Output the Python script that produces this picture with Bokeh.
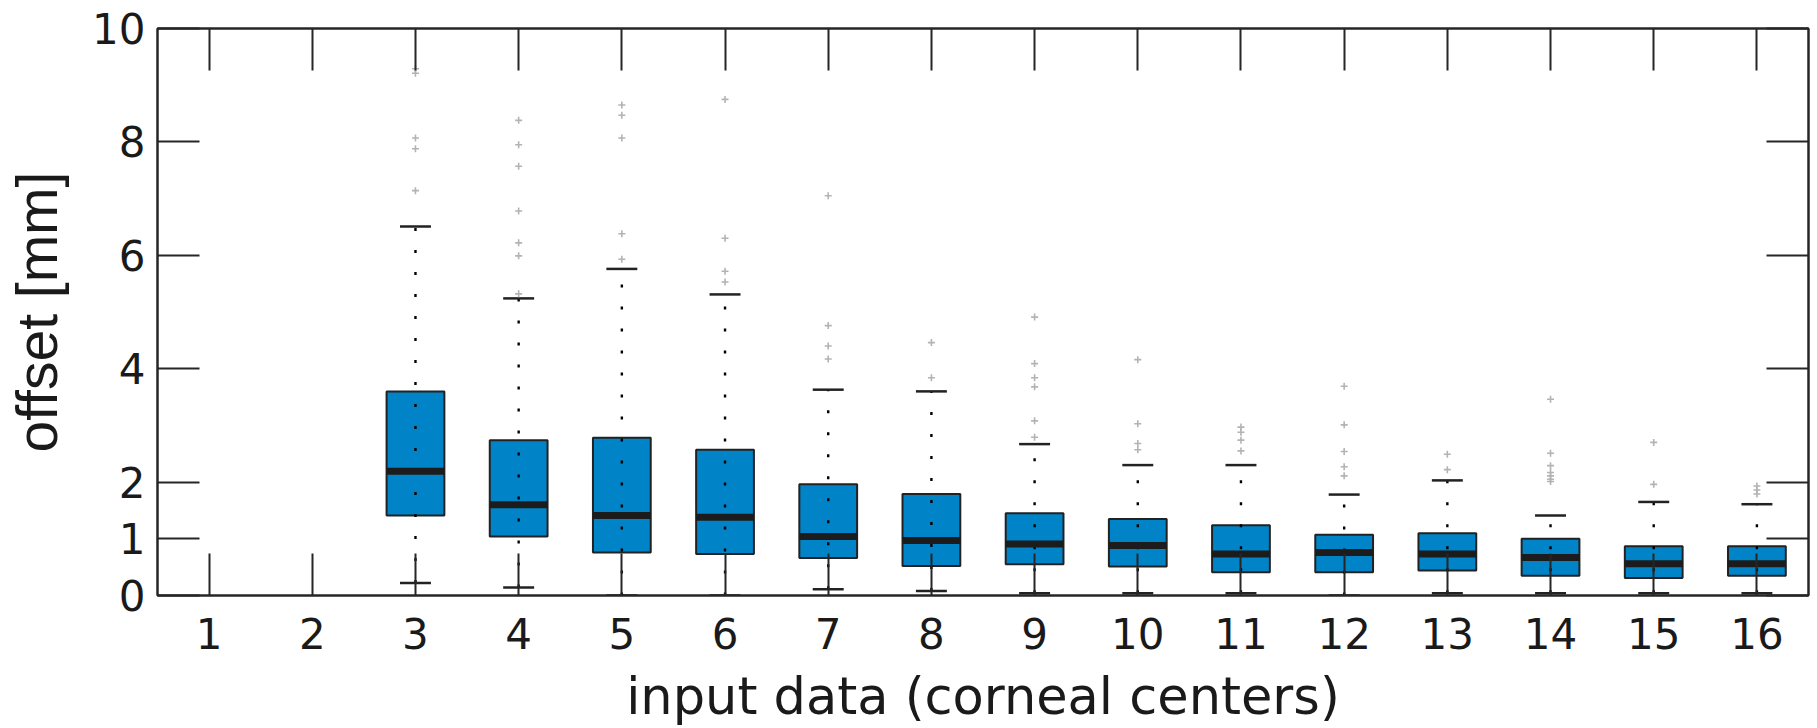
from bokeh.plotting import figure
from bokeh.models import Range1d, FixedTicker, LinearAxis, ColumnDataSource
from bokeh.embed import file_html
from bokeh.resources import INLINE

# ---- data ----
x_ticks = list(range(1, 17))
y_ticks = [0, 1, 2, 4, 6, 8, 10]
groups = [3, 4, 5, 6, 7, 8, 9, 10, 11, 12, 13, 14, 15, 16]
q1 = [1.41, 1.04, 0.76, 0.73, 0.66, 0.52, 0.55, 0.51, 0.41, 0.41, 0.44, 0.35, 0.31, 0.35]
median = [2.19, 1.60, 1.41, 1.38, 1.04, 0.97, 0.91, 0.88, 0.73, 0.76, 0.73, 0.67, 0.56, 0.56]
q3 = [3.60, 2.74, 2.78, 2.57, 1.96, 1.79, 1.45, 1.35, 1.24, 1.07, 1.10, 1.00, 0.87, 0.87]
lower = [0.22, 0.14, 0.0, 0.0, 0.11, 0.08, 0.04, 0.04, 0.04, 0.0, 0.04, 0.04, 0.04, 0.04]
upper = [6.51, 5.24, 5.76, 5.31, 3.63, 3.60, 2.67, 2.30, 2.30, 1.78, 2.03, 1.41, 1.65, 1.61]
outliers = [
    [9.29, 9.21, 8.07, 7.88, 7.14],
    [8.38, 7.95, 7.57, 6.78, 6.22, 5.99, 5.32],
    [8.65, 8.47, 8.07, 6.38, 5.93],
    [8.75, 6.30, 5.72, 5.53],
    [7.05, 4.76, 4.40, 4.17],
    [4.46, 3.84],
    [4.91, 4.09, 3.84, 3.68, 3.08, 2.79],
    [4.16, 3.03, 2.68, 2.57],
    [2.97, 2.88, 2.74, 2.55],
    [3.69, 3.01, 2.54, 2.27, 2.11],
    [2.49, 2.22],
    [3.46, 2.51, 2.29, 2.17, 2.11, 2.05, 2.01],
    [2.70, 1.96],
    [1.93, 1.86, 1.79],
]
x_label = "input data (corneal centers)"
y_label = "offset [mm]"

# ---- styling ----
BOX_W = 0.56
CAP_W = 0.30
BLUE = "#0083C7"
DARK = "#222222"
AX = "#262626"
TICK_FONT = "DejaVu Sans"

p = figure(width=1817, height=728,
           x_range=Range1d(0.5, 16.5), y_range=Range1d(0, 10),
           output_backend="svg", toolbar_location=None,
           min_border_left=157, min_border_right=9,
           min_border_top=28, min_border_bottom=131,
           x_axis_label=x_label, y_axis_label=y_label)
p.background_fill_color = "white"
p.border_fill_color = "white"
p.outline_line_color = AX
p.outline_line_width = 2
p.xgrid.grid_line_color = None
p.ygrid.grid_line_color = None

src = ColumnDataSource(dict(
    x=groups, q1=q1, med=median, q3=q3, lo=lower, hi=upper,
    bx0=[g - BOX_W / 2 for g in groups], bx1=[g + BOX_W / 2 for g in groups],
    cx0=[g - CAP_W / 2 for g in groups], cx1=[g + CAP_W / 2 for g in groups],
))

p.vbar(x="x", width=BOX_W, bottom="q1", top="q3", source=src,
       fill_color=BLUE, line_color=DARK, line_width=2)
p.segment(x0="x", y0="lo", x1="x", y1="hi", source=src,
          line_color="black", line_width=2.4, line_dash="3 19")
p.segment(x0="cx0", y0="hi", x1="cx1", y1="hi", source=src,
          line_color=DARK, line_width=2.5)
p.segment(x0="cx0", y0="lo", x1="cx1", y1="lo", source=src,
          line_color=DARK, line_width=2.5)
p.segment(x0="bx0", y0="med", x1="bx1", y1="med", source=src,
          line_color="#1c1c1c", line_width=7, line_cap="butt")

ox, oy = [], []
for g, vals in zip(groups, outliers):
    for v in vals:
        ox.append(g)
        oy.append(v)
p.scatter(ox, oy, marker="cross", size=7, line_color="#b3b3b3", line_width=1.6)

def style_axis(ax, ticks, tick_len):
    ax.ticker = FixedTicker(ticks=ticks)
    ax.major_tick_in = tick_len
    ax.major_tick_out = 0
    ax.major_tick_line_color = AX
    ax.major_tick_line_width = 2
    ax.minor_tick_line_color = None
    ax.axis_line_color = AX
    ax.axis_line_width = 2

# left axis
ya = p.yaxis[0]
style_axis(ya, y_ticks, 42)
ya.major_label_text_font = TICK_FONT
ya.major_label_text_font_size = "42px"
ya.major_label_text_color = "#1a1a1a"
ya.major_label_standoff = 12
ya.axis_label_text_font = "Liberation Sans"
ya.axis_label_text_font_size = "57px"
ya.axis_label_text_font_style = "normal"
ya.axis_label_text_color = "#1a1a1a"
ya.axis_label_standoff = 20

# bottom axis
xa = p.xaxis[0]
style_axis(xa, x_ticks, 42)
xa.major_label_text_font = TICK_FONT
xa.major_label_text_font_size = "42px"
xa.major_label_text_color = "#1a1a1a"
xa.major_label_standoff = 22
xa.axis_label_text_font = TICK_FONT
xa.axis_label_text_font_size = "51px"
xa.axis_label_text_font_style = "normal"
xa.axis_label_text_color = "#1a1a1a"
xa.axis_label_standoff = 15

# mirrored tick axes (box on)
ra = LinearAxis()
style_axis(ra, y_ticks, 42)
ra.major_label_text_font_size = "1px"
ra.major_label_text_color = None
ra.major_label_standoff = 0
p.add_layout(ra, "right")

ta = LinearAxis()
style_axis(ta, x_ticks, 42)
ta.major_label_text_font_size = "1px"
ta.major_label_text_color = None
ta.major_label_standoff = 0
p.add_layout(ta, "above")

open("out.html", "w").write(file_html(p, INLINE))
